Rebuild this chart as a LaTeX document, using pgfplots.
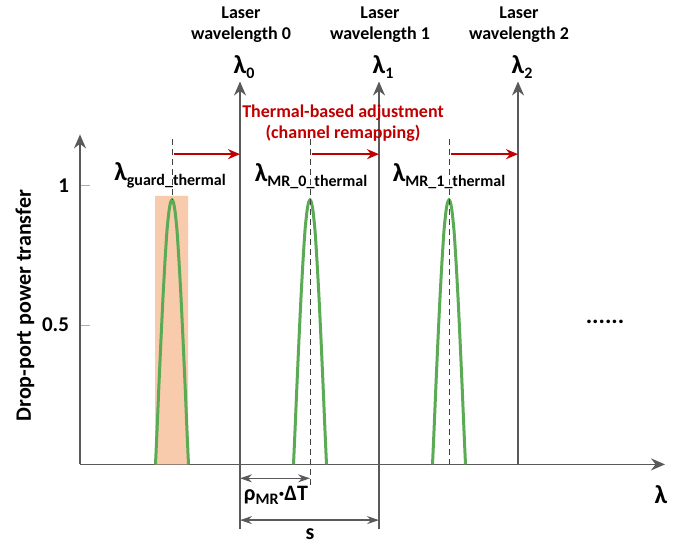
\documentclass[border=0pt]{standalone}
\usepackage{fontspec}
\setmainfont{Carlito}
\usepackage{pgfplots}
\pgfplotsset{compat=1.18}
\usetikzlibrary{arrows.meta}
\definecolor{axgray}{HTML}{5A5A5A}
\definecolor{mrgreen}{HTML}{5BAA54}
\definecolor{darkred}{HTML}{C00000}
\definecolor{peach}{HTML}{F8CBAD}
\newcommand{\lam}[1]{{\fontsize{13}{14}\selectfont λ}\raisebox{-2.5pt}{\fontsize{8}{9}\selectfont #1}}

\begin{document}
\begin{tikzpicture}[font=\bfseries\fontsize{9}{10.5}\selectfont]
\begin{axis}[
  scale only axis,
  width=292.5pt, height=165pt,
  xmin=80, xmax=665, ymin=0, ymax=1.185,
  axis lines=left,
  axis line style={axgray, line width=0.9pt, -{Stealth[length=7pt,width=6pt]}},
  xtick=\empty,
  ytick={0.5,1},
  yticklabels={0.5,1},
  yticklabel style={font=\bfseries\fontsize{10.5}{12}\selectfont, xshift=-2pt},
  tick align=inside,
  major tick length=5pt,
  tick style={axgray!50, line width=0.5pt},
  clip=false,
]
% picture extent
\path (axis cs:0,-0.271) rectangle (axis cs:699,1.643);

% guard band
\addplot[draw=none, fill=peach] coordinates {(155,0) (155,0.964) (188,0.964) (188,0)} \closedcycle;

% MR drop-port responses
\addplot[mrgreen, line width=1.5pt, smooth, tension=0.4] coordinates {
  (155.5,0) (157,0.12) (159,0.29) (161,0.45) (163,0.60) (165,0.73) (167,0.84)
  (169,0.91) (170.5,0.94) (172,0.95) (173.5,0.94) (175,0.91) (177,0.84)
  (179,0.73) (181,0.60) (183,0.45) (185,0.29) (187,0.12) (188.5,0)};
\addplot[mrgreen, line width=1.5pt, smooth, tension=0.4] coordinates {
  (293.5,0) (295,0.12) (297,0.29) (299,0.45) (301,0.60) (303,0.73) (305,0.84)
  (307,0.91) (308.5,0.94) (310,0.95) (311.5,0.94) (313,0.91) (315,0.84)
  (317,0.73) (319,0.60) (321,0.45) (323,0.29) (325,0.12) (326.5,0)};
\addplot[mrgreen, line width=1.5pt, smooth, tension=0.4] coordinates {
  (432.5,0) (434,0.12) (436,0.29) (438,0.45) (440,0.60) (442,0.73) (444,0.84)
  (446,0.91) (447.5,0.94) (449,0.95) (450.5,0.94) (452,0.91) (454,0.84)
  (456,0.73) (458,0.60) (460,0.45) (462,0.29) (464,0.12) (465.5,0)};

% dashed resonance markers
\draw[black!75, line width=0.5pt, dash pattern=on 3pt off 2pt] (axis cs:172,1.168) -- (axis cs:172,0.95);
\draw[black!75, line width=0.5pt, dash pattern=on 3pt off 2pt] (axis cs:310,1.168) -- (axis cs:310,-0.08);
\draw[black!75, line width=0.5pt, dash pattern=on 3pt off 2pt] (axis cs:449,1.168) -- (axis cs:449,0);

% laser wavelengths
\draw[axgray, line width=0.9pt, -{Stealth[length=7pt,width=6pt]}] (axis cs:240,-0.232) -- (axis cs:240,1.375);
\draw[axgray, line width=0.9pt, -{Stealth[length=7pt,width=6pt]}] (axis cs:379,-0.232) -- (axis cs:379,1.375);
\draw[axgray, line width=0.9pt, -{Stealth[length=7pt,width=6pt]}] (axis cs:518,0) -- (axis cs:518,1.375);

\node[align=center, anchor=south] at (axis cs:241,1.49) {Laser\\wavelength 0};
\node[align=center, anchor=south] at (axis cs:380,1.49) {Laser\\wavelength 1};
\node[align=center, anchor=south] at (axis cs:519,1.49) {Laser\\wavelength 2};
\node[font=\bfseries\fontsize{13}{14}\selectfont, anchor=south, inner sep=1pt] at (axis cs:244,1.378) {λ\raisebox{-2.5pt}{\fontsize{8}{9}\selectfont 0}};
\node[font=\bfseries\fontsize{13}{14}\selectfont, anchor=south, inner sep=1pt] at (axis cs:383,1.378) {λ\raisebox{-2.5pt}{\fontsize{8}{9}\selectfont 1}};
\node[font=\bfseries\fontsize{13}{14}\selectfont, anchor=south, inner sep=1pt] at (axis cs:522,1.378) {λ\raisebox{-2.5pt}{\fontsize{8}{9}\selectfont 2}};

% thermal remapping
\node[darkred, align=center] at (axis cs:343,1.225) {Thermal-based adjustment\\(channel remapping)};
\draw[darkred, line width=0.9pt, -{Stealth[length=6pt,width=5pt]}] (axis cs:174,1.114) -- (axis cs:240,1.114);
\draw[darkred, line width=0.9pt, -{Stealth[length=6pt,width=5pt]}] (axis cs:312,1.114) -- (axis cs:379,1.114);
\draw[darkred, line width=0.9pt, -{Stealth[length=6pt,width=5pt]}] (axis cs:451,1.114) -- (axis cs:518,1.114);

\node at (axis cs:170,1.036) {\lam{guard\_thermal}};
\node at (axis cs:311,1.036) {\lam{MR\_0\_thermal}};
\node at (axis cs:449,1.036) {\lam{MR\_1\_thermal}};

\node[font=\bfseries\fontsize{12}{13}\selectfont] at (axis cs:605,0.51) {......};

% spacing annotations
\draw[axgray, line width=0.7pt, {Stealth[length=6pt,width=4pt]}-{Stealth[length=6pt,width=4pt]}] (axis cs:240,-0.05) -- (axis cs:310,-0.05);
\node[font=\bfseries\fontsize{11}{12}\selectfont] at (axis cs:276,-0.11) {ρ\raisebox{-2pt}{\fontsize{8}{9}\selectfont MR}·ΔT};
\draw[axgray, line width=0.7pt, {Stealth[length=6pt,width=4pt]}-{Stealth[length=6pt,width=4pt]}] (axis cs:240,-0.2) -- (axis cs:379,-0.2);
\node[font=\bfseries\fontsize{11}{12}\selectfont] at (axis cs:310,-0.25) {s};
\node[font=\bfseries\fontsize{13}{14}\selectfont] at (axis cs:661,-0.11) {λ};

\node[rotate=90, font=\bfseries\fontsize{11}{12}\selectfont] at (axis cs:25,0.57) {Drop-port power transfer};
\end{axis}
\end{tikzpicture}
\end{document}
